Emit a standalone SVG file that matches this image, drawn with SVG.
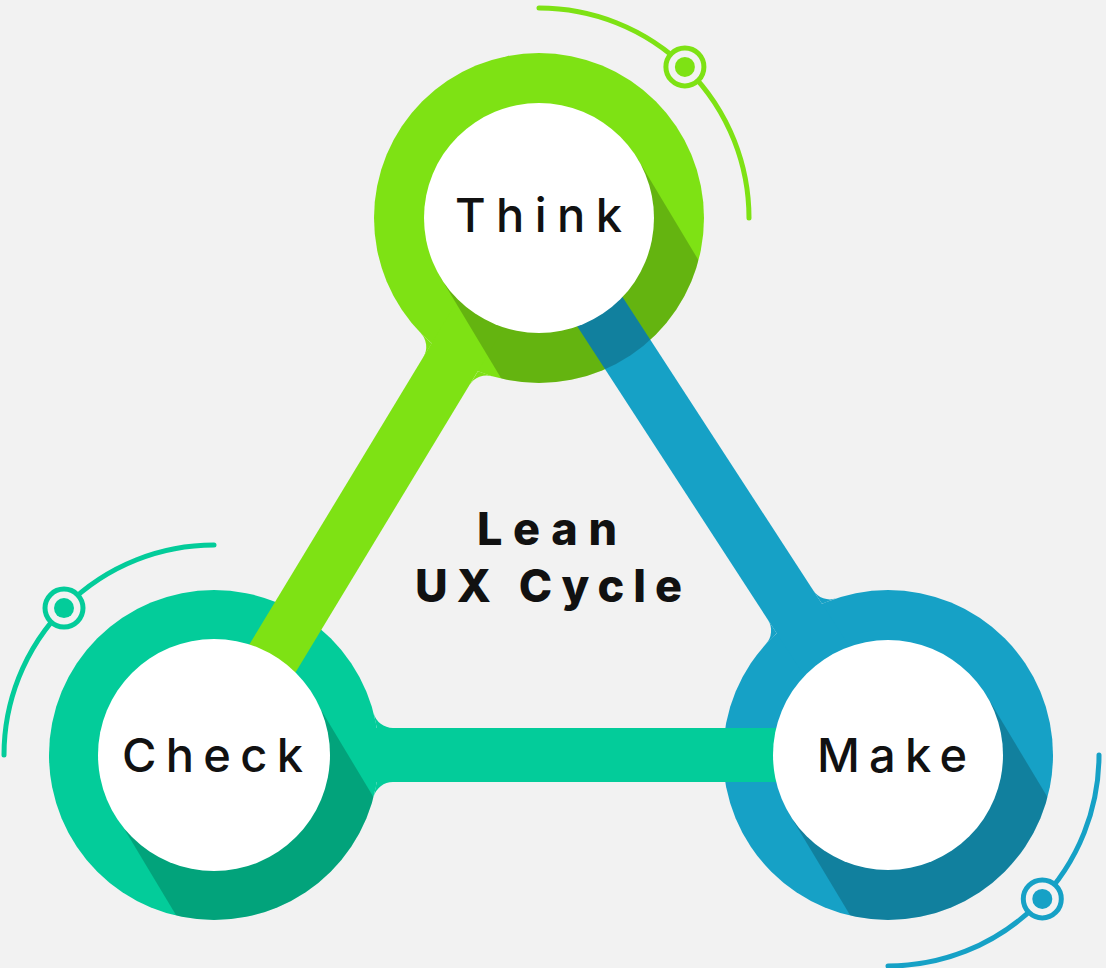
<svg xmlns="http://www.w3.org/2000/svg" width="1106" height="968" viewBox="0 0 1106 968">
  <style>
    .g{fill:#7EE214}.t{fill:#03CC9A}.b{fill:#16A1C6}
    .gs{stroke:#7EE214}.ts{stroke:#03CC9A}.bs{stroke:#16A1C6}
    .deco{fill:none;stroke-width:5;stroke-linecap:round}
    .ring{fill:#F2F2F2;stroke-width:5}
    .shadow{fill:#000;fill-opacity:0.2}
    .face{fill:#FFFFFF}
    .label{font-family:Inter,"Noto Sans","Liberation Sans",sans-serif;font-weight:500;font-size:47px;fill:#111;text-anchor:middle}
    .title{font-family:Inter,"Noto Sans","Liberation Sans",sans-serif;font-weight:800;font-size:45px;fill:#111;text-anchor:middle}
  </style>
  <defs>
    <clipPath id="clip-think"><circle cx="539" cy="218" r="165"/></clipPath>
    <clipPath id="clip-check"><circle cx="214" cy="755" r="165"/></clipPath>
    <clipPath id="clip-make"><circle cx="888" cy="755" r="165"/></clipPath>
  </defs>
  <rect width="1106" height="968" fill="#F2F2F2"/>

  <!-- node bases: outer discs and orbit arcs -->
  <g id="node-think-base">
    <path class="deco gs" d="M539,8 A210,210 0 0 1 749,218"/>
    <circle class="ring gs" cx="684.9" cy="66.9" r="19"/>
    <circle class="g" cx="684.9" cy="66.9" r="10"/>
    <circle class="g" cx="539" cy="218" r="165"/>
  </g>
  <g id="node-check-base">
    <path class="deco ts" d="M214,545 A210,210 0 0 0 4,755"/>
    <circle class="ring ts" cx="64" cy="608.1" r="19"/>
    <circle class="t" cx="64" cy="608.1" r="10"/>
    <circle class="t" cx="214" cy="755" r="165"/>
  </g>
  <g id="node-make-base">
    <path class="deco bs" d="M1099,755 A211,211 0 0 1 888,966"/>
    <circle class="ring bs" cx="1042.3" cy="898.9" r="19"/>
    <circle class="b" cx="1042.3" cy="898.9" r="10"/>
    <circle class="b" cx="888" cy="755" r="165"/>
  </g>

  <!-- connectors -->
  <g id="connectors">
    <g id="think-check">
      <line x1="539" y1="218" x2="214" y2="755" stroke="#7EE214" stroke-width="54"/>
      <path class="g" d="M420.6,332.93 L431.72,343.38 L423.36,357.2 A20,20 0 0 0 420.6,332.93 Z"/>
      <path class="g" d="M492.36,376.29 L477.94,371.3 L469.58,385.12 A20,20 0 0 1 492.36,376.29 Z"/>
    </g>
    <g id="make-think">
      <line x1="888" y1="755" x2="539" y2="218" stroke="#16A1C6" stroke-width="54"/>
      <path class="b" d="M765.89,644.02 L776.66,633.22 L767.86,619.68 A20,20 0 0 1 765.89,644.02 Z"/>
      <path class="b" d="M836.19,598.34 L821.94,603.8 L813.14,590.26 A20,20 0 0 0 836.19,598.34 Z"/>
    </g>
    <g id="check-make">
      <line x1="214" y1="755" x2="888" y2="755" stroke="#03CC9A" stroke-width="54"/>
      <path class="t" d="M373.59,713.08 L376.78,728 L392.93,728 A20,20 0 0 1 373.59,713.08 Z"/>
      <path class="t" d="M373.59,796.92 L376.78,782 L392.93,782 A20,20 0 0 0 373.59,796.92 Z"/>
    </g>
  </g>

  <!-- node faces -->
  <g id="node-think">
    <polygon class="shadow" clip-path="url(#clip-think)" points="637.58,158.77 843.58,501.67 646.42,620.13 440.42,277.23"/>
    <circle class="face" cx="539" cy="218" r="115"/>
    <text class="label" x="538.5" y="232" textLength="167" lengthAdjust="spacing">Think</text>
  </g>
  <g id="node-check">
    <polygon class="shadow" clip-path="url(#clip-check)" points="312.58,695.77 518.58,1038.67 321.42,1157.13 115.42,814.23"/>
    <circle class="face" cx="214" cy="755" r="116"/>
    <text class="label" x="212.5" y="772" textLength="181" lengthAdjust="spacing">Check</text>
  </g>
  <g id="node-make">
    <polygon class="shadow" clip-path="url(#clip-make)" points="986.58,695.77 1192.58,1038.67 995.42,1157.13 789.42,814.23"/>
    <circle class="face" cx="888" cy="755" r="115"/>
    <text class="label" x="892" y="772" textLength="150" lengthAdjust="spacing">Make</text>
  </g>

  <g id="title">
    <text class="title" x="547" y="545" textLength="140" lengthAdjust="spacing">Lean</text>
    <text class="title" x="548.5" y="602" textLength="267" lengthAdjust="spacing">UX Cycle</text>
  </g>
</svg>
